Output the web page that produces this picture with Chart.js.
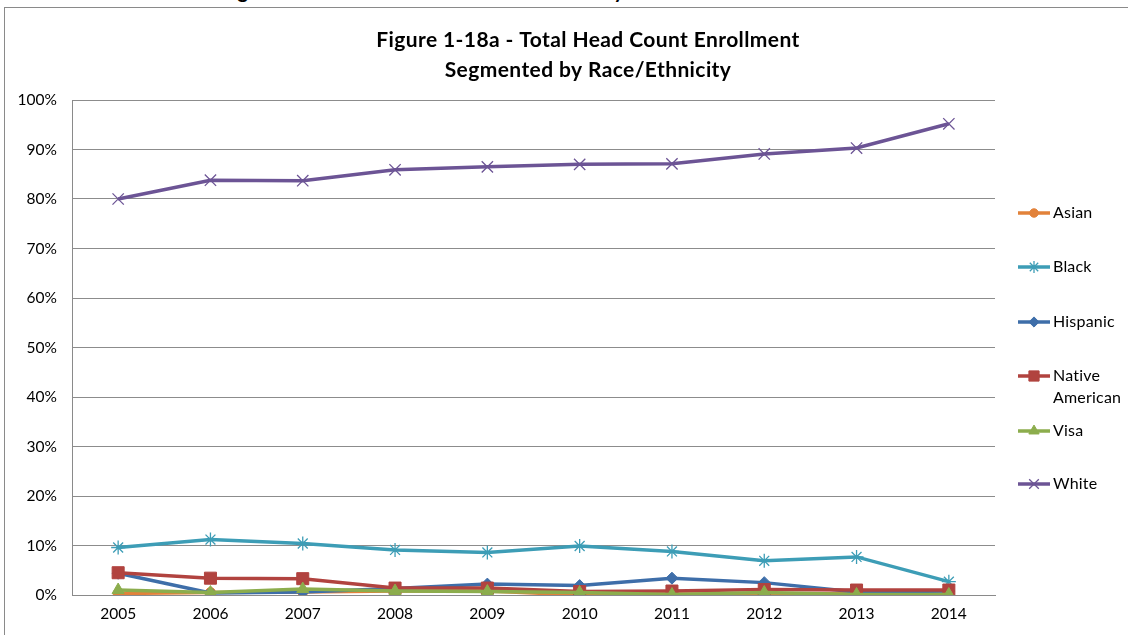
<!DOCTYPE html>
<html lang="en">
<head>
    <meta charset="UTF-8">
    <title>Figure 1-18a - Total Head Count Enrollment</title>
    <script src="https://cdn.jsdelivr.net/npm/chart.js"></script>
    <style>
        html, body {
            margin: 0;
            padding: 0;
            background: #fff;
            overflow: hidden;
        }
        .page {
            position: relative;
            width: 1128px;
            height: 635px;
        }
        .frame {
            position: absolute;
            left: 4px;
            top: 7px;
            width: 1200px;
            height: 700px;
            border-left: 1px solid #8a8a8a;
            border-top: 1px solid #8a8a8a;
        }
        .cut-heading {
            position: absolute;
            left: 0;
            top: 0;
            width: 1128px;
            height: 7px;
            overflow: hidden;
        }
        .cut-heading span {
            position: absolute;
            left: 221px;
            top: -20px;
            font: bold 20px Lato, sans-serif;
            line-height: 20px;
            white-space: nowrap;
            color: #000;
        }
        canvas {
            position: absolute;
            left: 0;
            top: 0;
        }
    </style>
</head>
<body>
<div class="page">
    <div class="cut-heading"><span>Figure 1-18 - Total Head Count Enrollment by</span></div>
    <div class="frame"></div>
    <canvas id="chart" width="1128" height="635"></canvas>
</div>
<script>
    const years = ['2005', '2006', '2007', '2008', '2009', '2010', '2011', '2012', '2013', '2014'];
    const seriesNames = ['Asian', 'Black', 'Hispanic', 'Native American', 'Visa', 'White'];

    const asian    = [0.3, 0.5, 0.6, 0.8, 0.8, 0.0, 0.2, 0.1, 0.3, 0.2];
    const black    = [9.6, 11.2, 10.4, 9.1, 8.6, 9.9, 8.8, 6.9, 7.7, 2.7];
    const hispanic = [4.4, 0.4, 0.6, 1.3, 2.2, 1.9, 3.4, 2.5, 0.6, 0.8];
    const native   = [4.5, 3.4, 3.3, 1.4, 1.4, 0.7, 0.8, 1.1, 1.0, 1.0];
    const visa     = [1.0, 0.5, 1.2, 0.8, 0.7, 0.5, 0.1, 0.5, 0.1, 0.1];
    const white    = [80.0, 83.8, 83.7, 85.9, 86.5, 87.0, 87.1, 89.1, 90.3, 95.2];

    const yTicks = [0, 10, 20, 30, 40, 50, 60, 70, 80, 90, 100];

    const titleLines = ['Figure 1-18a - Total Head Count Enrollment', 'Segmented by Race/Ethnicity'];

    const FONT = 'Lato, "Open Sans", sans-serif';

    function series(i, data, color, style, radius, borderWidth) {
        return {
            label: seriesNames[i],
            data: data,
            borderColor: color,
            backgroundColor: color,
            pointBackgroundColor: color,
            pointBorderColor: color,
            pointStyle: style,
            pointRadius: radius,
            pointBorderWidth: borderWidth,
            borderWidth: 3.5,
            tension: 0,
            order: 6 - i
        };
    }

    const datasets = [
        series(0, asian, '#e2823a', 'circle', 5, 1),
        series(1, black, '#3d9db6', 'star', 7, 1.3),
        series(2, hispanic, '#3e6ea9', 'rectRot', 6, 1),
        series(3, native, '#b1433f', 'rect', 8.5, 1),
        series(4, visa, '#8cad4d', 'triangle', 7, 1),
        series(5, white, '#6c5495', 'crossRot', 8, 1.3)
    ];

    // title and the hand-placed legend of the spreadsheet original
    const decorations = {
        id: 'decorations',
        afterDraw(chart) {
            const ctx = chart.ctx;
            const rows = [213, 267, 322, 376, 431, 484];
            ctx.save();
            ctx.fillStyle = '#000';
            ctx.textAlign = 'center';
            ctx.textBaseline = 'middle';
            ctx.font = 'bold 21px ' + FONT;
            ctx.letterSpacing = '0.4px';
            ctx.fillText(titleLines[0], 588, 40);
            ctx.fillText(titleLines[1], 588, 70);
            ctx.letterSpacing = '0px';
            chart.data.datasets.forEach((ds, i) => {
                const y = rows[i];
                ctx.strokeStyle = ds.borderColor;
                ctx.fillStyle = ds.backgroundColor;
                ctx.lineWidth = 3.5;
                ctx.beginPath();
                ctx.moveTo(1018, y);
                ctx.lineTo(1050, y);
                ctx.stroke();
                ctx.lineWidth = ds.pointBorderWidth;
                Chart.helpers.drawPoint(ctx, {
                    pointStyle: ds.pointStyle,
                    radius: ds.pointRadius * 0.85,
                    borderWidth: ds.pointBorderWidth,
                    rotation: 0
                }, 1034, y);
                ctx.fillStyle = '#000';
                ctx.textAlign = 'left';
                ctx.font = '16px ' + FONT;
                ctx.letterSpacing = '0.2px';
                const words = ds.label === 'Native American' ? ['Native', 'American'] : [ds.label];
                words.forEach((w, k) => ctx.fillText(w, 1053, y + k * 22));
                ctx.letterSpacing = '0px';
            });
            ctx.restore();
        }
    };

    new Chart(document.getElementById('chart'), {
        type: 'line',
        data: { labels: years, datasets: datasets },
        options: {
            responsive: false,
            animation: false,
            layout: { padding: { top: 100, right: 133, left: 0, bottom: 0 } },
            plugins: {
                legend: { display: false },
                title: { display: false },
                tooltip: { enabled: false }
            },
            scales: {
                x: {
                    offset: true,
                    grid: { display: false, drawTicks: false },
                    border: { display: true, color: '#8a8a8a', width: 1 },
                    ticks: { color: '#000', font: { family: FONT, size: 15.5 }, padding: 10 },
                    afterFit(scale) { scale.height = 40; }
                },
                y: {
                    min: 0,
                    max: 100,
                    afterBuildTicks(scale) { scale.ticks = yTicks.map(v => ({ value: v })); },
                    grid: { color: '#8c8c8c', lineWidth: 1, drawTicks: false },
                    border: { display: true, color: '#8a8a8a', width: 1 },
                    ticks: {
                        color: '#000',
                        font: { family: FONT, size: 15.5 },
                        padding: 15,
                        callback: v => v + '%'
                    },
                    afterFit(scale) { scale.width = 72; }
                }
            }
        },
        plugins: [decorations]
    });
</script>
</body>
</html>
